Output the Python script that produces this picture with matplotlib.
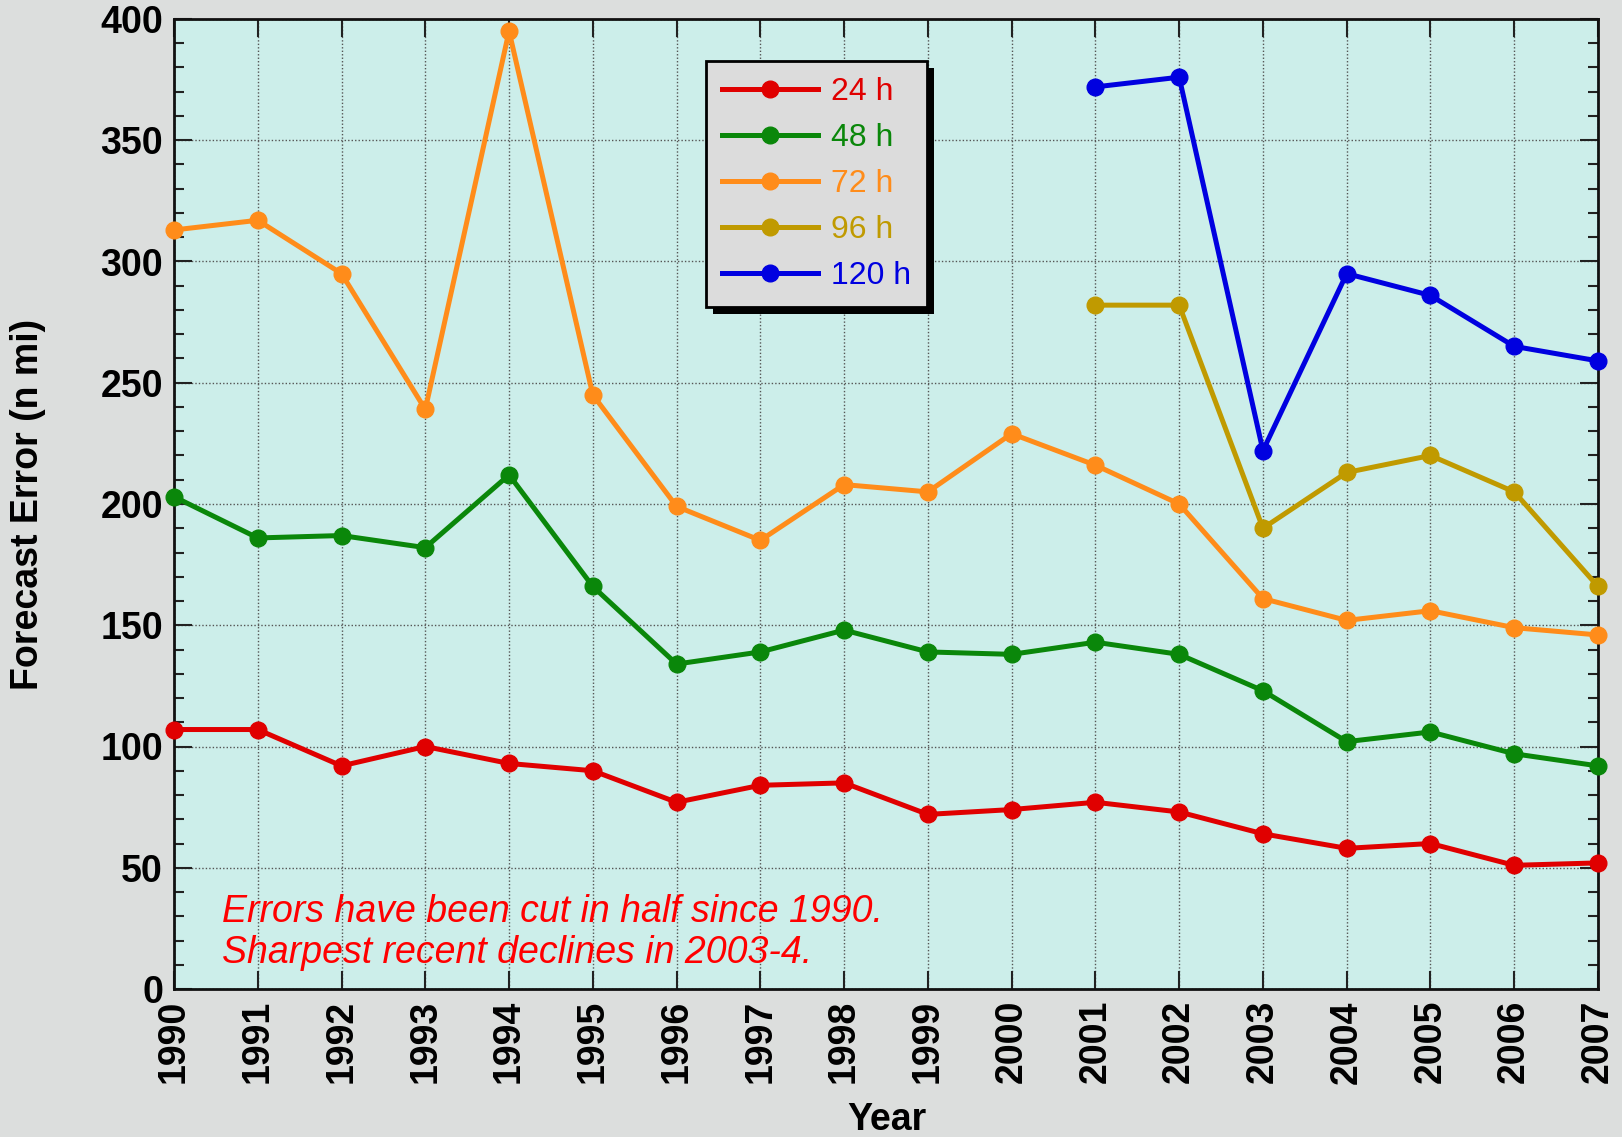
import matplotlib
matplotlib.use("Agg")
import matplotlib.pyplot as plt
from matplotlib.ticker import MultipleLocator
from matplotlib.patches import Rectangle
from matplotlib.transforms import IdentityTransform

plt.rcParams['font.family'] = ['Liberation Sans', 'DejaVu Sans']

years = list(range(1990, 2008))
err_24 = [107, 107, 92, 100, 93, 90, 77, 84, 85, 72, 74, 77, 73, 64, 58, 60, 51, 52]
err_48 = [203, 186, 187, 182, 212, 166, 134, 139, 148, 139, 138, 143, 138, 123, 102, 106, 97, 92]
err_72 = [313, 317, 295, 239, 395, 245, 199, 185, 208, 205, 229, 216, 200, 161, 152, 156, 149, 146]
years_late = list(range(2001, 2008))
err_96 = [282, 282, 190, 213, 220, 205, 166]
err_120 = [372, 376, 222, 295, 286, 265, 259]

labels = ["24 h", "48 h", "72 h", "96 h", "120 h"]
colors = ["#e00000", "#0a870a", "#ff8c1a", "#c09a00", "#0000e0"]

W, H = 1622, 1137
fig = plt.figure(figsize=(W / 100, H / 100), dpi=100, facecolor="#dcdedd")
ax = fig.add_axes([174 / W, 1 - 989 / H, (1598 - 174) / W, (989 - 19) / H])
ax.set_facecolor("#cceeea")

series = [(years, err_24), (years, err_48), (years, err_72),
          (years_late, err_96), (years_late, err_120)]
handles = []
for (x, y), lab, c in zip(series, labels, colors):
    h, = ax.plot(x, y, color=c, lw=3.6, marker="o", ms=12, label=lab,
                 clip_on=False, zorder=3)
    handles.append(h)

ax.set_xlim(1990, 2007)
ax.set_ylim(0, 400)
ax.set_xticks(years)
ax.set_xticklabels([str(v) for v in years], rotation=90, fontsize=27, fontweight="bold")
ax.yaxis.set_major_locator(MultipleLocator(50))
ax.yaxis.set_minor_locator(MultipleLocator(10))
for t in ax.get_yticklabels():
    t.set_fontsize(27)
    t.set_fontweight("bold")
ax.tick_params(axis="both", which="major", direction="in", length=13, width=1.5,
               top=True, right=True, color="#222222")
ax.tick_params(axis="both", which="minor", direction="in", length=7, width=1.5,
               right=True, color="#222222")
ax.tick_params(axis="y", which="major", pad=8)
ax.tick_params(axis="x", which="major", pad=8)
for s in ax.spines.values():
    s.set_linewidth(2)
    s.set_color("#111111")
ax.grid(True, which="major", linestyle=(0, (1, 1.5)), color="#555555", lw=1.0)
ax.set_axisbelow(True)

fig.text(28 / W, 1 - 504 / H, "Forecast Error (n mi)", rotation=90, ha="center",
         va="center", fontsize=27, fontweight="bold")
fig.text(887 / W, 1 - 1120 / H, "Year", ha="center", va="center",
         fontsize=27, fontweight="bold")

ax.text(222 / W, 1 - 963 / H, "Errors have been cut in half since 1990.\nSharpest recent declines in 2003-4.",
        transform=fig.transFigure, color="#ff0000", fontsize=27, fontstyle="italic",
        ha="left", va="baseline", linespacing=1.18)

leg = ax.legend(handles=handles, loc="upper left",
                bbox_to_anchor=(706 / W, 1 - 61 / H), bbox_transform=fig.transFigure,
                borderaxespad=0,
                fontsize=23, numpoints=1, handlelength=3.0, handletextpad=0.4,
                labelspacing=0.5, borderpad=0.5, fancybox=False,
                facecolor="#dcdcdc", edgecolor="black", framealpha=1)
leg.get_frame().set_linewidth(2)
leg.set_zorder(10)
for t, c in zip(leg.get_texts(), colors):
    t.set_color(c)

fig.canvas.draw()
bb = leg.get_window_extent()
shadow = Rectangle((bb.x0 + 7, bb.y0 - 7), bb.width, bb.height, transform=IdentityTransform(),
                   facecolor="black", edgecolor="none", zorder=9.5)
ax.add_artist(shadow)
shadow.set_clip_on(False)

fig.savefig("out.png", dpi=100, facecolor=fig.get_facecolor())
